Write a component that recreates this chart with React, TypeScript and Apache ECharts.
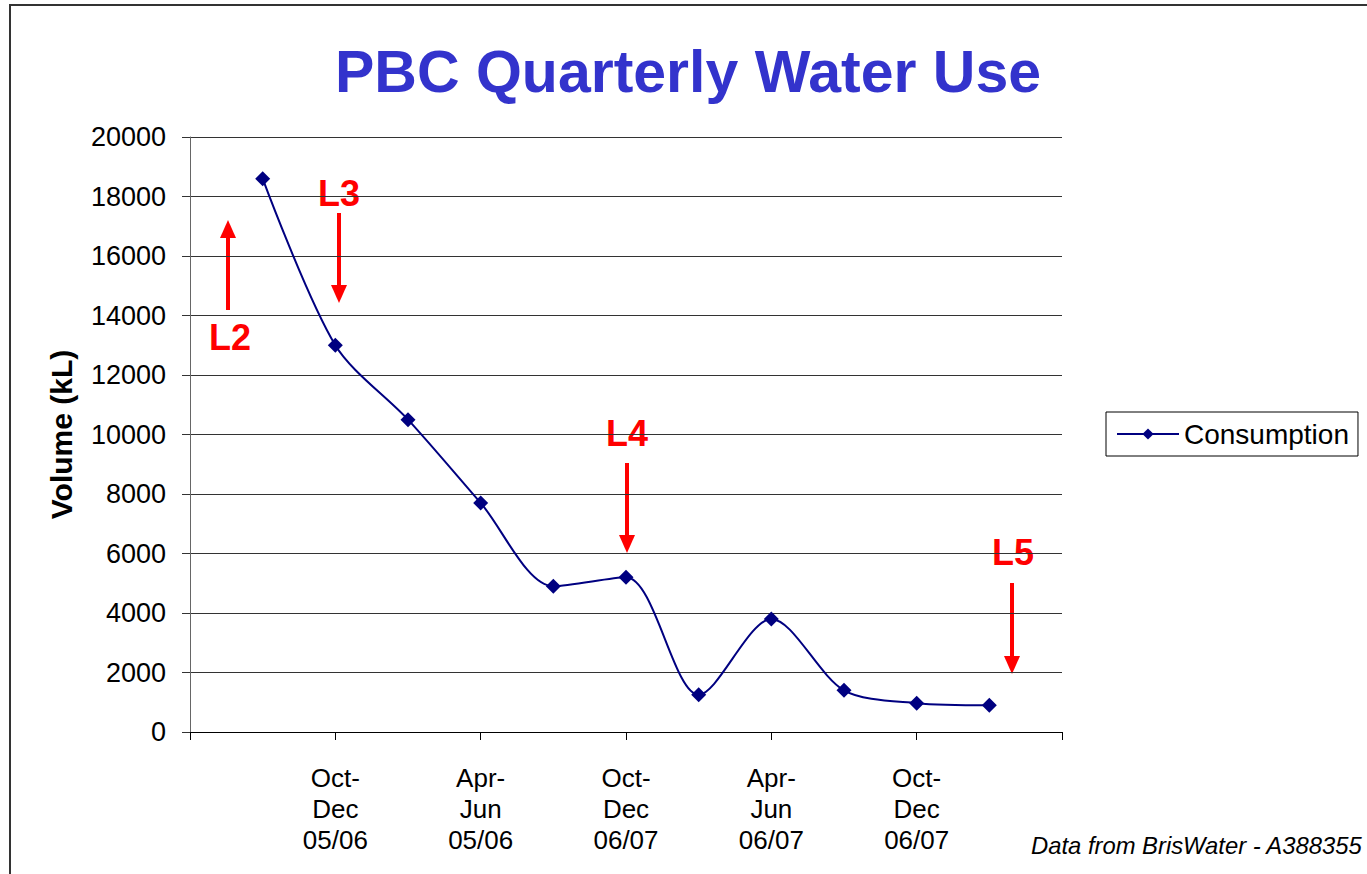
import React, { useEffect, useRef } from "react";
import * as echarts from "echarts";

// Quarter categories (first and last are empty padding slots on the axis)
const categories = [
  "",
  "Jul-Sep 05/06",
  "Oct-Dec 05/06",
  "Jan-Mar 05/06",
  "Apr-Jun 05/06",
  "Jul-Sep 06/07",
  "Oct-Dec 06/07",
  "Jan-Mar 06/07",
  "Apr-Jun 06/07",
  "Jul-Sep 07/08",
  "Oct-Dec 06/07",
  "Jan-Mar 07/08",
  "",
];

// Consumption in kL per quarter (slots 1..11)
const consumption = [18600, 13000, 10500, 7700, 4900, 5200, 1250, 3800, 1400, 970, 900];

const yTicks = { min: 0, max: 20000, interval: 2000 };

const FONT = '"Liberation Sans", Arial, Helvetica, sans-serif';
const RED = "#FF0000";
const NAVY = "#000080";

function arrow(x: number, tail: number, tip: number) {
  const dir = tip > tail ? 1 : -1;
  const headLen = 18;
  const headHalf = 8;
  const base = tip - dir * headLen;
  return [
    {
      type: "line",
      shape: { x1: x, y1: tail, x2: x, y2: base },
      style: { stroke: RED, lineWidth: 4 },
      silent: true,
    },
    {
      type: "polygon",
      shape: {
        points: [
          [x - headHalf, base],
          [x + headHalf, base],
          [x, tip],
        ],
      },
      style: { fill: RED },
      silent: true,
    },
  ];
}

function label(text: string, x: number, y: number) {
  return {
    type: "text",
    x,
    y,
    silent: true,
    style: {
      text,
      fill: RED,
      font: `bold 36px ${FONT}`,
      align: "center",
      verticalAlign: "middle",
    },
  };
}

export default function App() {
  const ref = useRef<HTMLDivElement>(null);

  useEffect(() => {
    if (!ref.current) return;
    const chart = echarts.init(ref.current, null, { renderer: "svg" });
    const seriesData = ["-", ...consumption, "-"];

    chart.setOption({
      animation: false,
      backgroundColor: "#ffffff",
      textStyle: { fontFamily: FONT },
      grid: {
        left: 190,
        right: 305,
        top: 137,
        bottom: 142,
        outerBoundsMode: "none",
      },
      legend: {
        left: 1106,
        top: 412,
        padding: [8, 9, 8, 10],
        borderColor: "#000",
        borderWidth: 1,
        itemWidth: 62,
        itemHeight: 14,
        itemGap: 0,
        textStyle: { fontSize: 28, color: "#000", fontFamily: FONT },
        data: ["Consumption"],
      },
      xAxis: {
        type: "category",
        data: categories,
        boundaryGap: false,
        axisLine: { show: true, lineStyle: { color: "#000", width: 1 } },
        axisTick: { show: true, interval: 1, length: 8, lineStyle: { color: "#000" } },
        axisLabel: {
          interval: 1,
          margin: 30,
          fontSize: 26,
          lineHeight: 31,
          color: "#000",
          fontFamily: FONT,
          formatter: (v: string) => v.replace("-", "-\n").replace(" ", "\n"),
        },
        splitLine: { show: false },
      },
      yAxis: {
        type: "value",
        min: yTicks.min,
        max: yTicks.max,
        interval: yTicks.interval,
        name: "Volume (kL)",
        nameLocation: "middle",
        nameGap: 114,
        nameRotate: 90,
        nameTextStyle: { fontSize: 30, fontWeight: "bold", color: "#000", fontFamily: FONT },
        axisLine: { show: true, lineStyle: { color: "#666", width: 1 } },
        axisTick: { show: true, length: 8, lineStyle: { color: "#333" } },
        axisLabel: {
          margin: 24,
          fontSize: 27,
          color: "#000",
          fontFamily: FONT,
          formatter: (v: number) => String(v),
        },
        splitLine: { show: true, lineStyle: { color: "#333", width: 1 } },
      },
      series: [
        {
          name: "Consumption",
          type: "line",
          data: seriesData,
          smooth: 0.3,
          symbol: "diamond",
          symbolSize: 15,
          lineStyle: { color: NAVY, width: 2 },
          itemStyle: { color: NAVY },
          z: 5,
        },
      ],
      graphic: [
        {
          type: "rect",
          shape: { x: 10, y: 5, width: 1400, height: 900 },
          style: { fill: "none", stroke: "#333", lineWidth: 2 },
          silent: true,
          z: -1,
        },
        {
          type: "text",
          x: 688,
          y: 72,
          silent: true,
          style: {
            text: "PBC Quarterly Water Use",
            fill: "#3333CC",
            font: `bold 59px ${FONT}`,
            align: "center",
            verticalAlign: "middle",
          },
        },
        ...arrow(228, 310, 220),
        label("L2", 230, 337),
        ...arrow(339, 213, 303),
        label("L3", 339, 193),
        ...arrow(627, 463, 553),
        label("L4", 627, 433),
        ...arrow(1012, 583, 674),
        label("L5", 1013, 552),
        {
          type: "text",
          x: 1031,
          y: 845,
          silent: true,
          style: {
            text: "Data from BrisWater - A388355",
            fill: "#000",
            font: `italic 23.8px ${FONT}`,
            align: "left",
            verticalAlign: "middle",
          },
        },
      ],
    });

    return () => chart.dispose();
  }, []);

  return (
    <div
      ref={ref}
      style={{ position: "fixed", left: 0, top: 0, width: 1367, height: 874, background: "#fff" }}
    />
  );
}
